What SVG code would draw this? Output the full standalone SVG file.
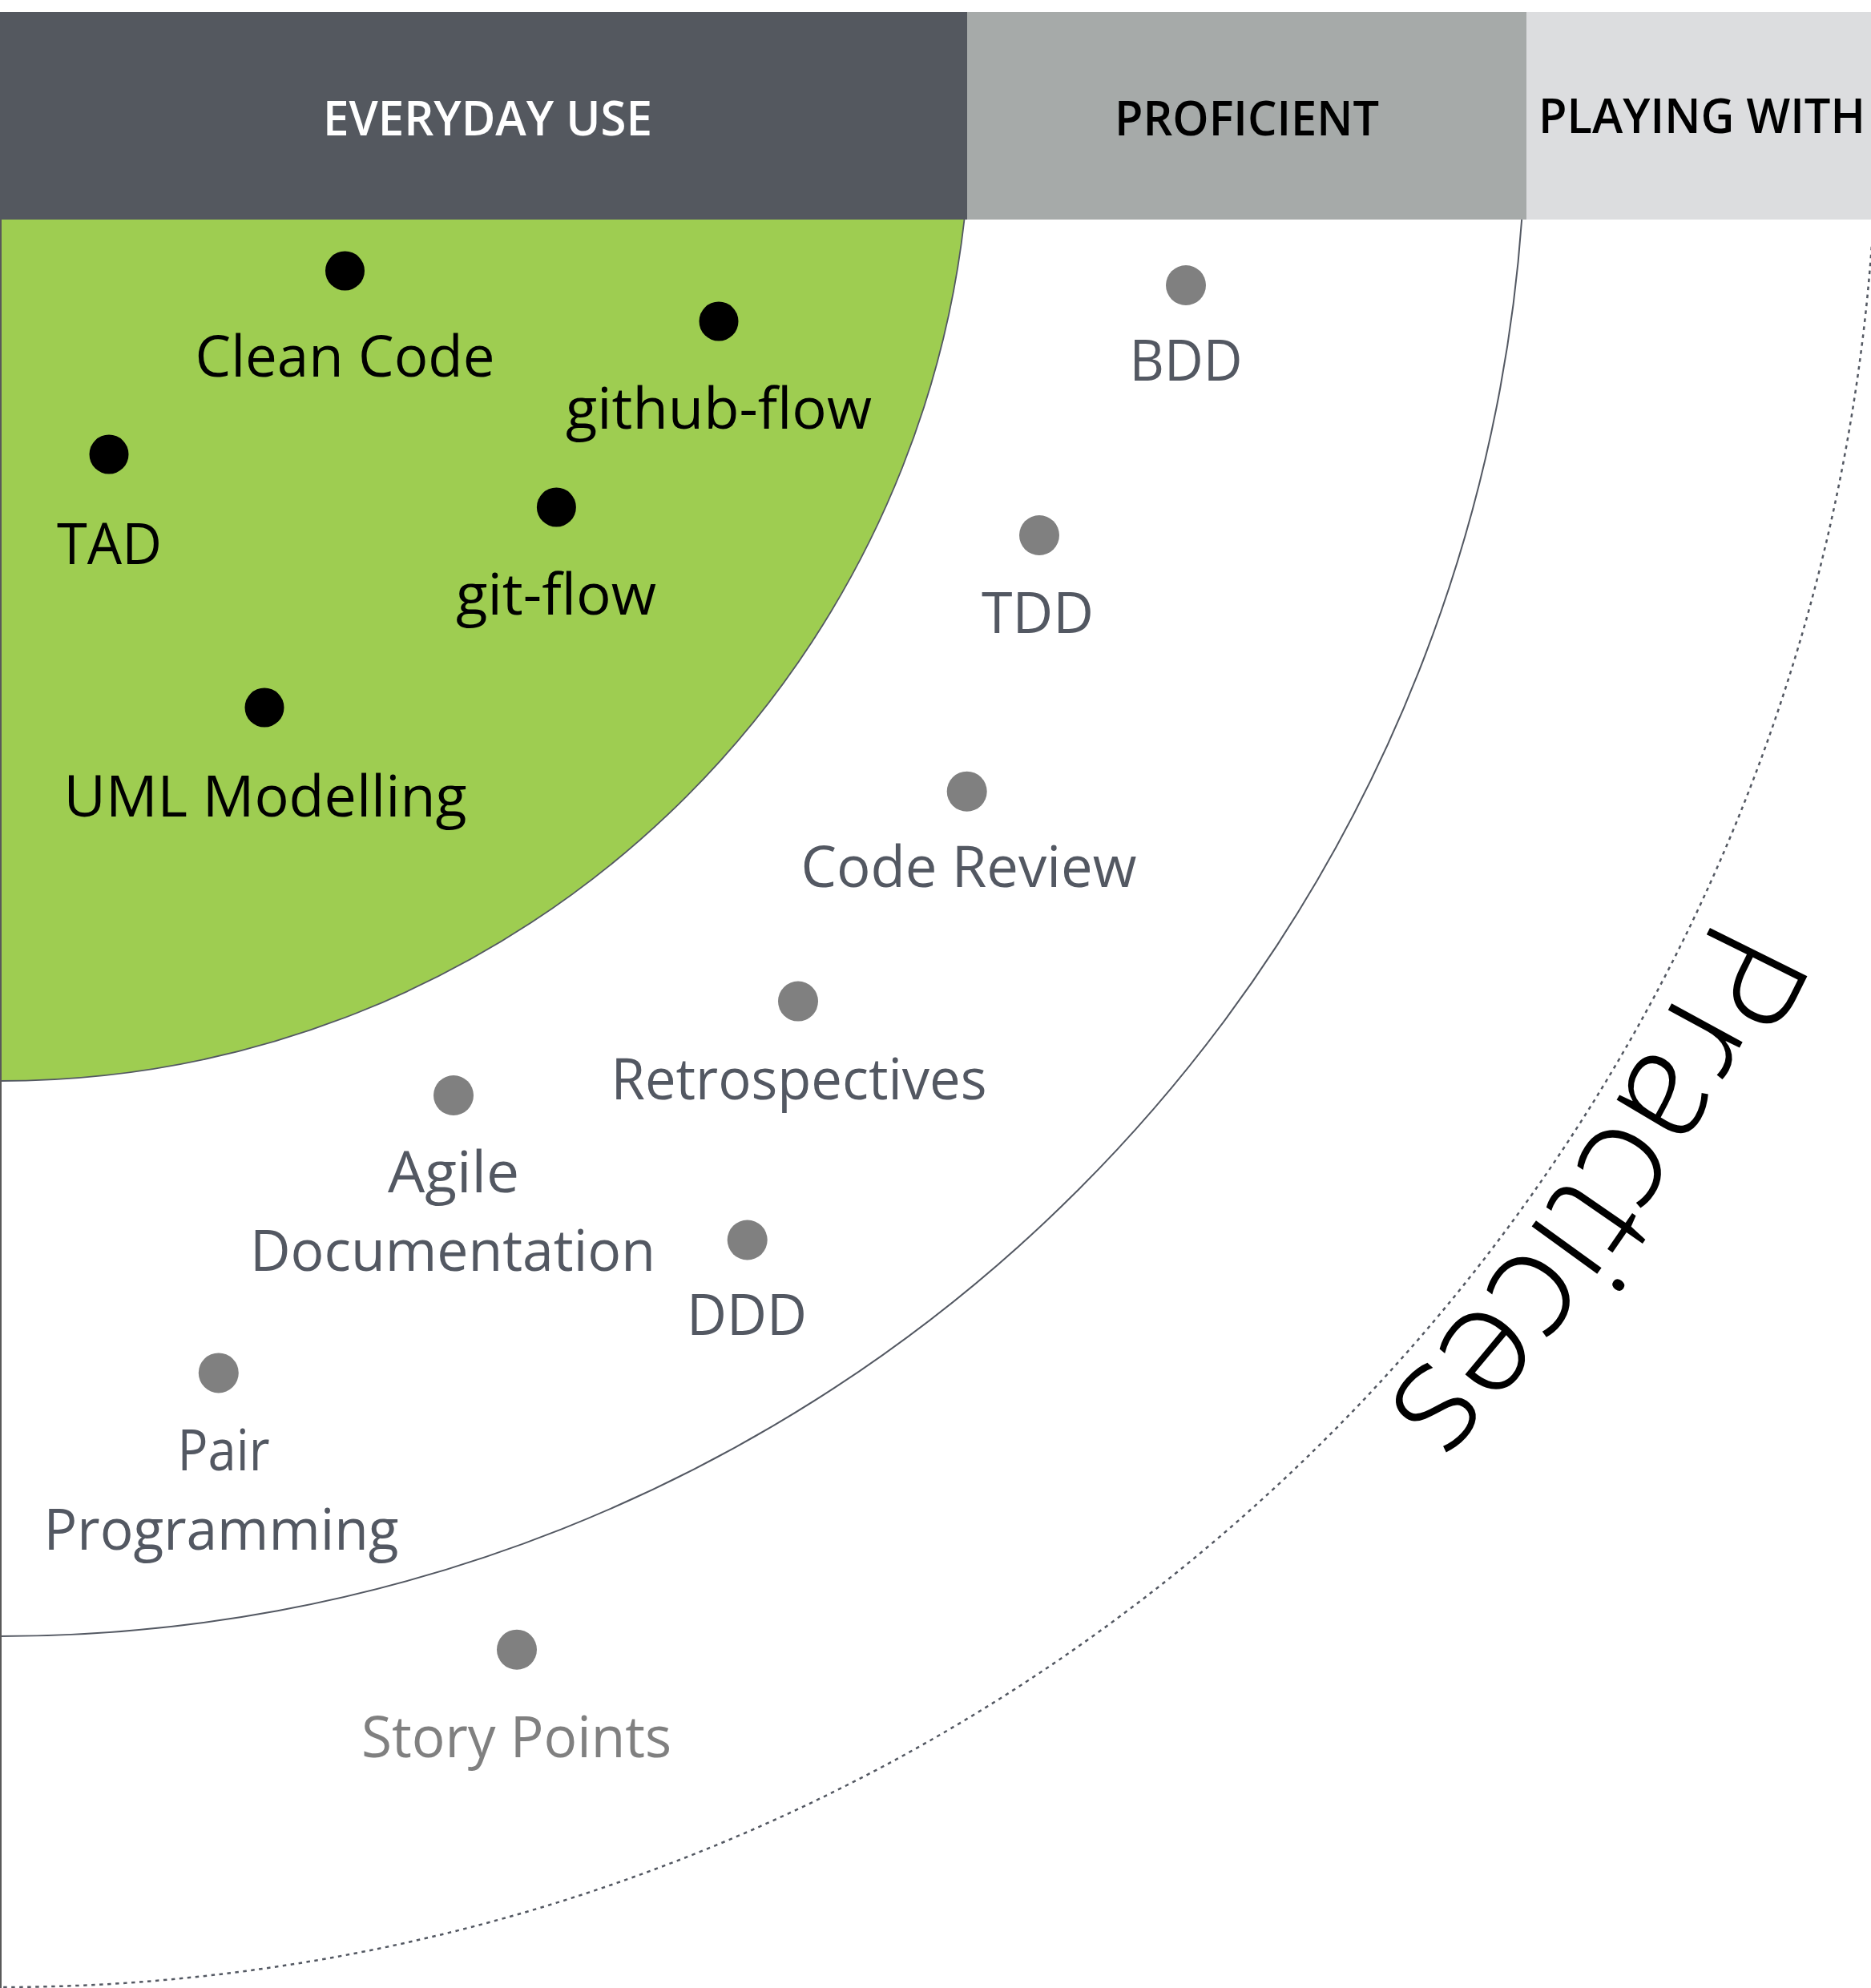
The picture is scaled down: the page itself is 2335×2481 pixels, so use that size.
<svg xmlns="http://www.w3.org/2000/svg" width="2335" height="2481" viewBox="0 0 2335 2481">
<style>
.hdr{font-family:"Open Sans","Noto Sans","Liberation Sans",sans-serif;font-weight:600;font-size:60px}
.lbl{font-family:"Open Sans","Noto Sans","Liberation Sans",sans-serif;font-size:72px;text-anchor:middle}
.core{fill:#000}
.prof{fill:#535862}
.play{fill:#808080}
.dk{fill:#000}
.gd{fill:#808080}
.ring{fill:none;stroke:#535862}
</style>
<defs>
<path id="arcPath" d="M 2141.7 1141.1 A 2365 2365 0 0 1 1182.5 2186.2"/>
<clipPath id="plot"><rect x="0" y="274" width="2335" height="2207"/></clipPath>
</defs>
<rect x="0" y="0" width="2335" height="2481" fill="#ffffff"/>
<g id="rings" clip-path="url(#plot)">
<circle cx="0" cy="138" r="1211" fill="#9ECD51" stroke="#535862" stroke-width="1.8"/>
<circle class="ring" cx="0" cy="138" r="1904" stroke-width="2"/>
<circle class="ring" cx="0" cy="138" r="2342" stroke-width="2.5" stroke-dasharray="4.5 5.5" stroke="#595C63"/>
<line x1="1" y1="274" x2="1" y2="2481" stroke="#595959" stroke-width="2"/>
</g>
<g id="header">
<rect x="0" y="15" width="1207" height="259" fill="#54585F"/>
<rect x="1207" y="15" width="698" height="259" fill="#A6AAA9"/>
<rect x="1905" y="15" width="430" height="259" fill="#DCDDDF"/>
<text class="hdr" x="608.5" y="169" text-anchor="middle" fill="#ffffff" textLength="411" lengthAdjust="spacingAndGlyphs">EVERYDAY USE</text>
<text class="hdr" x="1556" y="169" text-anchor="middle" fill="#000000" textLength="330" lengthAdjust="spacingAndGlyphs">PROFICIENT</text>
<text class="hdr" x="1920" y="166" fill="#000000" textLength="408" lengthAdjust="spacingAndGlyphs">PLAYING WITH</text>
</g>
<g id="node-clean-code"><circle class="dk" cx="430.5" cy="338" r="24.5"/><text class="lbl core" x="430.5" y="470" textLength="374" lengthAdjust="spacingAndGlyphs">Clean Code</text></g>
<g id="node-github-flow"><circle class="dk" cx="897" cy="401" r="24.5"/><text class="lbl core" x="897" y="535" textLength="382" lengthAdjust="spacingAndGlyphs">github-flow</text></g>
<g id="node-tad"><circle class="dk" cx="136" cy="567" r="24.5"/><text class="lbl core" x="136.5" y="704" textLength="131" lengthAdjust="spacingAndGlyphs">TAD</text></g>
<g id="node-git-flow"><circle class="dk" cx="694.4" cy="633" r="24.5"/><text class="lbl core" x="694" y="767" textLength="250" lengthAdjust="spacingAndGlyphs">git-flow</text></g>
<g id="node-uml-modelling"><circle class="dk" cx="330" cy="883" r="24.5"/><text class="lbl core" x="331" y="1019" textLength="503" lengthAdjust="spacingAndGlyphs">UML Modelling</text></g>
<g id="node-bdd"><circle class="gd" cx="1480" cy="356" r="25"/><text class="lbl prof" x="1480" y="475" textLength="141" lengthAdjust="spacingAndGlyphs">BDD</text></g>
<g id="node-tdd"><circle class="gd" cx="1297" cy="668" r="25"/><text class="lbl prof" x="1295" y="789.5" textLength="140" lengthAdjust="spacingAndGlyphs">TDD</text></g>
<g id="node-code-review"><circle class="gd" cx="1206.7" cy="987.7" r="25"/><text class="lbl prof" x="1209" y="1107" textLength="419" lengthAdjust="spacingAndGlyphs">Code Review</text></g>
<g id="node-retrospectives"><circle class="gd" cx="996" cy="1249.6" r="25"/><text class="lbl prof" x="997" y="1372" textLength="469" lengthAdjust="spacingAndGlyphs">Retrospectives</text></g>
<g id="node-agile-documentation"><circle class="gd" cx="566" cy="1367" r="25"/><text class="lbl prof" x="566" y="1488" textLength="164" lengthAdjust="spacingAndGlyphs">Agile</text><text class="lbl prof" x="565" y="1586" textLength="506" lengthAdjust="spacingAndGlyphs">Documentation</text></g>
<g id="node-ddd"><circle class="gd" cx="932.7" cy="1547.5" r="25"/><text class="lbl prof" x="932" y="1666" textLength="150" lengthAdjust="spacingAndGlyphs">DDD</text></g>
<g id="node-pair-programming"><circle class="gd" cx="272.8" cy="1713.4" r="25"/><text class="lbl prof" x="279" y="1835" textLength="115" lengthAdjust="spacingAndGlyphs">Pair</text><text class="lbl prof" x="276" y="1934" textLength="443" lengthAdjust="spacingAndGlyphs">Programming</text></g>
<g id="node-story-points"><circle class="gd" cx="645" cy="2058.7" r="25"/><text class="lbl play" x="644.5" y="2192.5" textLength="387" lengthAdjust="spacingAndGlyphs">Story Points</text></g>
<g id="quadrant-title"><text font-family="Open Sans, Noto Sans, Liberation Sans, sans-serif" font-weight="300" font-size="190" fill="#000000" textLength="745" lengthAdjust="spacingAndGlyphs"><textPath href="#arcPath">Practices</textPath></text></g>
</svg>
